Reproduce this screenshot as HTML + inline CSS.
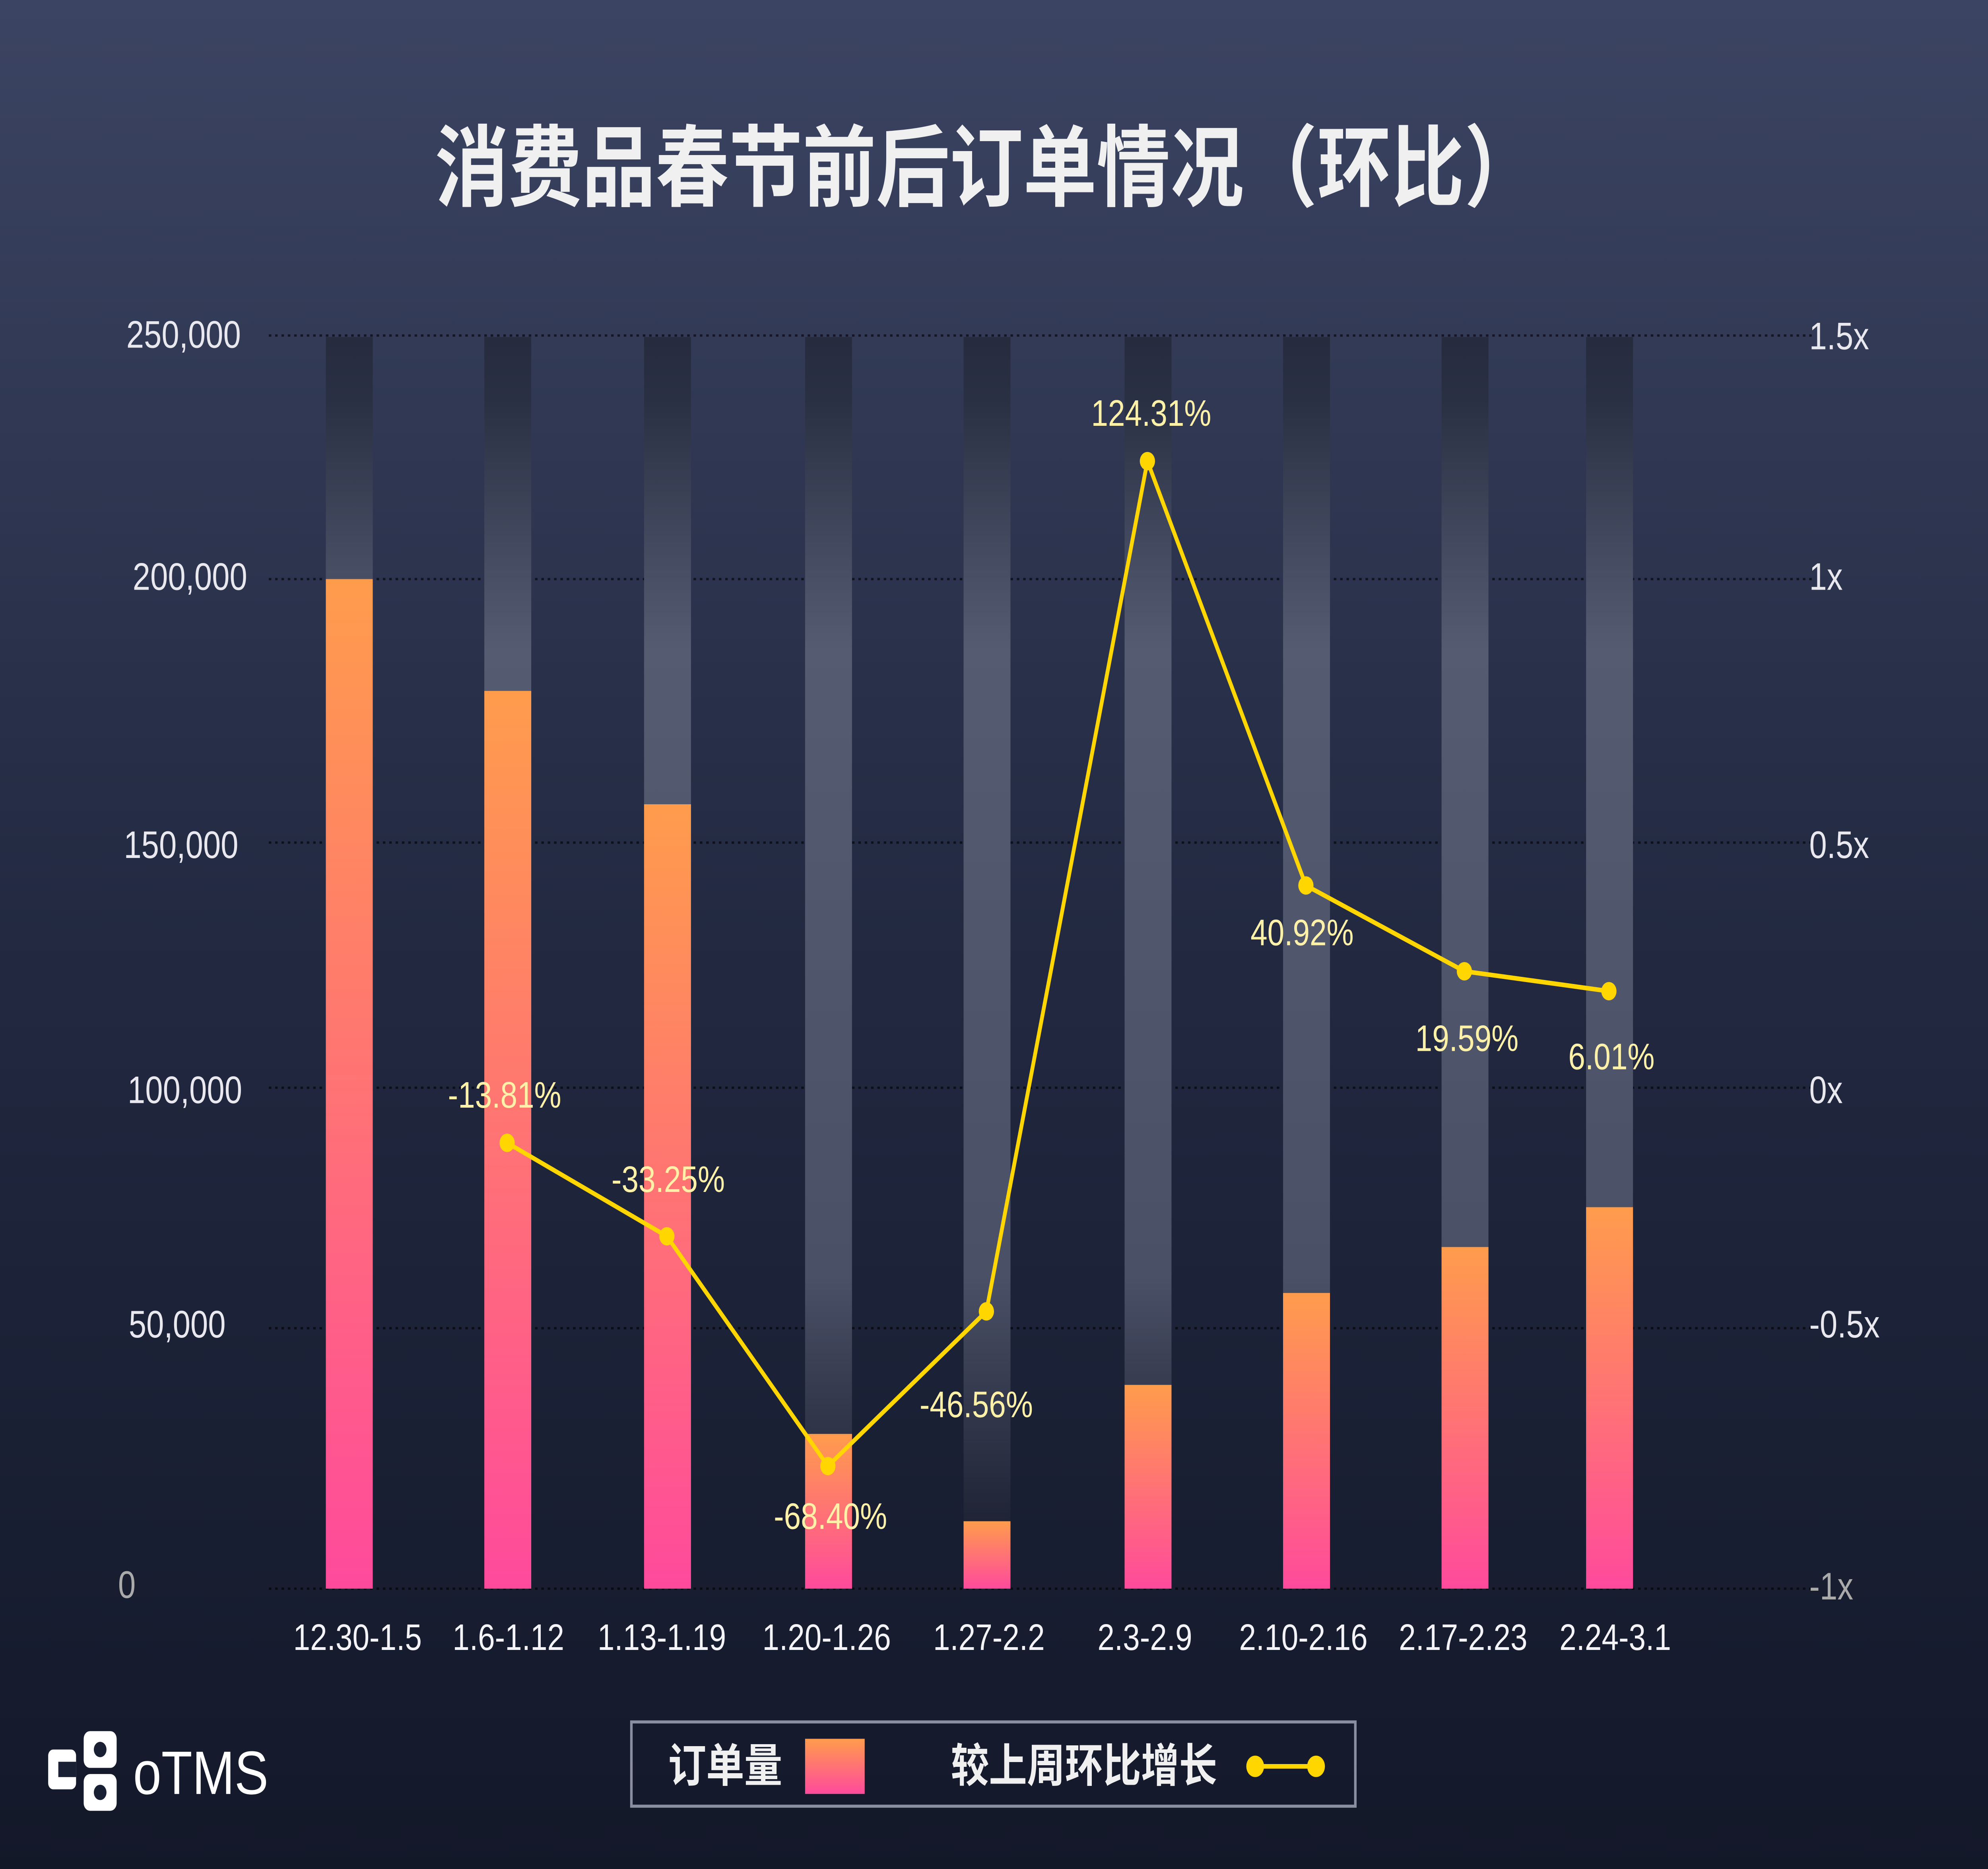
<!DOCTYPE html>
<html><head><meta charset="utf-8"><style>
html,body{margin:0;padding:0;background:#151a2c;width:100%;height:100%;overflow:hidden;}
svg{display:block;width:100vw;height:100vh;}
text{font-family:"Liberation Sans","Noto Sans CJK SC",sans-serif;}
</style></head><body>
<svg viewBox="0 0 1568 1220" preserveAspectRatio="none" xmlns="http://www.w3.org/2000/svg">
<defs>
<linearGradient id="bg" x1="0" y1="0" x2="0" y2="1">
<stop offset="0" stop-color="#3b4462"/><stop offset="0.5" stop-color="#222941"/><stop offset="1" stop-color="#131829"/></linearGradient>
<linearGradient id="gb" x1="0" y1="0" x2="0" y2="1">
<stop offset="0" stop-color="#262b3e"/><stop offset="0.05" stop-color="#2a3044"/><stop offset="0.25" stop-color="#555b71"/><stop offset="0.75" stop-color="#4a5066"/><stop offset="0.95" stop-color="#1e2334"/><stop offset="1" stop-color="#1b2030"/></linearGradient>
<linearGradient id="ob" x1="0" y1="0" x2="0" y2="1">
<stop offset="0" stop-color="#ff9c4c"/><stop offset="1" stop-color="#ff4a9c"/></linearGradient>
</defs>
<rect width="1568" height="1220" fill="url(#bg)"/>
<text x="778" y="130" text-anchor="middle" font-size="58" font-weight="bold" fill="#f0f0f0">消费品春节前后订单情况（环比）</text>
<g stroke="#000" stroke-opacity="0.6" stroke-dasharray="2,3" stroke-width="1.5">
<line x1="212" y1="219" x2="1430" y2="219"/><line x1="212" y1="378" x2="1430" y2="378"/>
<line x1="212" y1="550" x2="1430" y2="550"/><line x1="212" y1="710" x2="1430" y2="710"/>
<line x1="212" y1="867" x2="1430" y2="867"/><line x1="212" y1="1037" x2="1430" y2="1037"/>
</g>
<g font-size="25" fill="#e8e8ee">
<text x="190" y="227" text-anchor="end">250,000</text><text x="195" y="385" text-anchor="end">200,000</text>
<text x="188" y="560" text-anchor="end">150,000</text><text x="191" y="720" text-anchor="end">100,000</text>
<text x="178" y="873" text-anchor="end">50,000</text><text x="107" y="1043" text-anchor="end" fill="#aaa">0</text>
<text x="1427" y="228">1.5x</text><text x="1427" y="385">1x</text><text x="1427" y="560">0.5x</text>
<text x="1427" y="720">0x</text><text x="1427" y="873">-0.5x</text><text x="1427" y="1044" fill="#aaa">-1x</text>
</g>
<g fill="url(#gb)">
<rect x="257" y="220" width="37" height="817"/><rect x="382" y="220" width="37" height="817"/>
<rect x="508" y="220" width="37" height="817"/><rect x="635" y="220" width="37" height="817"/>
<rect x="760" y="220" width="37" height="817"/><rect x="887" y="220" width="37" height="817"/>
<rect x="1012" y="220" width="37" height="817"/><rect x="1137" y="220" width="37" height="817"/>
<rect x="1251" y="220" width="37" height="817"/>
</g>
<g>
<rect x="257" y="378" width="37" height="659" fill="url(#ob)"/><rect x="382" y="451" width="37" height="586" fill="url(#ob)"/>
<rect x="508" y="525" width="37" height="512" fill="url(#ob)"/><rect x="635" y="936" width="37" height="101" fill="url(#ob)"/>
<rect x="760" y="993" width="37" height="44" fill="url(#ob)"/><rect x="887" y="904" width="37" height="133" fill="url(#ob)"/>
<rect x="1012" y="844" width="37" height="193" fill="url(#ob)"/><rect x="1137" y="814" width="37" height="223" fill="url(#ob)"/>
<rect x="1251" y="788" width="37" height="249" fill="url(#ob)"/>
</g>
<polyline points="400,746 526,807 653,957 778,856 905,301 1030,578 1155,634 1269,647" fill="none" stroke="#ffd600" stroke-width="3"/>
<g fill="#ffd600">
<circle cx="400" cy="746" r="6"/><circle cx="526" cy="807" r="6"/><circle cx="653" cy="957" r="6"/><circle cx="778" cy="856" r="6"/>
<circle cx="905" cy="301" r="6"/><circle cx="1030" cy="578" r="6"/><circle cx="1155" cy="634" r="6"/><circle cx="1269" cy="647" r="6"/>
</g>
<g font-size="24" fill="#fff2a8" text-anchor="middle">
<text x="398" y="723">-13.81%</text><text x="527" y="778">-33.25%</text><text x="655" y="998">-68.40%</text>
<text x="770" y="925">-46.56%</text><text x="908" y="278">124.31%</text><text x="1027" y="617">40.92%</text>
<text x="1157" y="686">19.59%</text><text x="1271" y="698">6.01%</text>
</g>
<g font-size="24" fill="#f4f4f8" text-anchor="middle">
<text x="282" y="1077">12.30-1.5</text><text x="401" y="1077">1.6-1.12</text><text x="522" y="1077">1.13-1.19</text>
<text x="652" y="1077">1.20-1.26</text><text x="780" y="1077">1.27-2.2</text><text x="903" y="1077">2.3-2.9</text>
<text x="1028" y="1077">2.10-2.16</text><text x="1154" y="1077">2.17-2.23</text><text x="1274" y="1077">2.24-3.1</text>
</g>
<rect x="498" y="1124" width="571" height="55" fill="none" stroke="#8a8fa0" stroke-width="2"/>
<text x="527" y="1163" font-size="30" font-weight="bold" fill="#f0f0f0">订单量</text>
<rect x="635" y="1135" width="47" height="36" fill="url(#ob)"/>
<text x="750" y="1163" font-size="30" font-weight="bold" fill="#f0f0f0">较上周环比增长</text>
<line x1="990" y1="1153" x2="1038" y2="1153" stroke="#ffd600" stroke-width="3"/>
<circle cx="990" cy="1153" r="7" fill="#ffd600"/><circle cx="1038" cy="1153" r="7" fill="#ffd600"/>
<g fill="#ffffff">
<rect x="38" y="1142" width="22" height="26" rx="4"/><rect x="66" y="1130" width="26" height="24" rx="5"/><rect x="66" y="1158" width="26" height="24" rx="5"/>
</g>
<g fill="#1a2033"><rect x="46" y="1150" width="14" height="10"/><circle cx="79" cy="1142" r="5"/><circle cx="79" cy="1170" r="5"/></g>
<text x="105" y="1171" font-size="40" fill="#ffffff">oTMS</text>
</svg>
</body></html>
